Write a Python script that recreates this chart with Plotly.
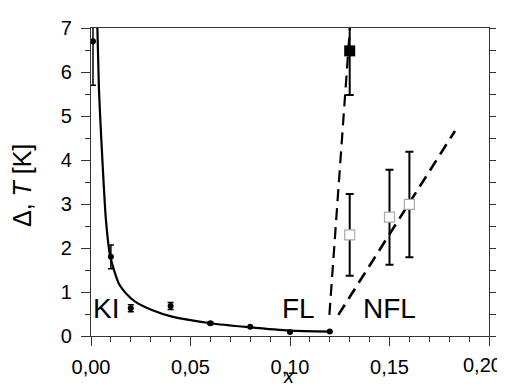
import plotly.graph_objects as go

# KI data (filled circles)
ki_x = [0.001, 0.01, 0.02, 0.04, 0.06, 0.08, 0.10, 0.12]
ki_y = [6.7, 1.8, 0.63, 0.68, 0.29, 0.21, 0.09, 0.10]
ki_err = [1.0, 0.27, 0.08, 0.08, 0.03, 0.0, 0.0, 0.0]

# fitted curve
fit_x = [0.0032, 0.0040, 0.0052, 0.0075, 0.0097, 0.0139, 0.0180, 0.0222, 0.0306, 0.0407, 0.060, 0.079, 0.100, 0.120]
fit_y = [7.0, 5.6, 4.45, 2.64, 1.80, 1.20, 0.95, 0.78, 0.59, 0.44, 0.29, 0.20, 0.12, 0.10]

# filled square
fs_x = [0.13]
fs_y = [6.48]
fs_err = [1.0]

# open squares
os_x = [0.13, 0.15, 0.16]
os_y = [2.30, 2.70, 2.99]
os_err = [0.93, 1.08, 1.20]

# dashed lines
d1_x = [0.1198, 0.1301]
d1_y = [0.48, 7.0]
d2_x = [0.1243, 0.1829]
d2_y = [0.48, 4.66]

labels = ["KI", "FL", "NFL"]
label_x = [0.0077, 0.1045, 0.150]
label_y = [0.62, 0.62, 0.62]

x_tickvals = [0, 0.05, 0.10, 0.15, 0.20]
x_ticktext = ["0,00", "0,05", "0,10", "0,15", ""]
last_tick_label = "0,20"

FONT = "Liberation Sans, Arial, sans-serif"
AX = "#333333"

fig = go.Figure()
fig.add_trace(go.Scatter(x=fit_x, y=fit_y, mode="lines", line=dict(color="black", width=2.2, shape="spline", smoothing=0.6)))
fig.add_trace(go.Scatter(x=d1_x, y=d1_y, mode="lines", line=dict(color="black", width=2.2, dash="12px,7px")))
fig.add_trace(go.Scatter(x=d2_x, y=d2_y, mode="lines", line=dict(color="black", width=2.6, dash="12px,7px")))
fig.add_trace(go.Scatter(x=ki_x, y=ki_y, mode="markers",
                         marker=dict(symbol="circle", size=6, color="black"),
                         error_y=dict(type="data", array=ki_err, color="black", thickness=1.5, width=3)))
fig.add_trace(go.Scatter(x=os_x, y=os_y, mode="markers",
                         marker=dict(symbol="square", size=10, color="white", line=dict(color="#aaaaaa", width=1.2)),
                         error_y=dict(type="data", array=os_err, color="black", thickness=2, width=4)))
fig.add_trace(go.Scatter(x=fs_x, y=fs_y, mode="markers",
                         marker=dict(symbol="square", size=11, color="black"),
                         error_y=dict(type="data", array=fs_err, color="black", thickness=2, width=4)))
# right axis helper
fig.add_trace(go.Scatter(x=[0.1], y=[3], mode="markers", marker=dict(opacity=0), yaxis="y2", hoverinfo="skip"))

for t, xx, yy in zip(labels, label_x, label_y):
    fig.add_annotation(x=xx, y=yy, text=t, showarrow=False, xanchor="center", yanchor="middle",
                       font=dict(family=FONT, size=28, color="black"))

# axis titles & last tick label as annotations
fig.add_annotation(xref="paper", yref="paper", x=-0.1734, y=0.49, text="Δ, <i>T</i> [K]", textangle=-90,
                   showarrow=False, xanchor="center", yanchor="middle", font=dict(family=FONT, size=25, color="black"))
fig.add_annotation(xref="paper", yref="paper", x=0.4975, y=-0.172, text="<i>x</i>",
                   showarrow=False, xanchor="center", yanchor="bottom", font=dict(family=FONT, size=20, color="black"))
fig.add_annotation(xref="paper", yref="paper", x=1, xshift=15, y=-0.0942, text=last_tick_label,
                   showarrow=False, xanchor="right", yanchor="middle", font=dict(family=FONT, size=20, color="black"))

fig.update_layout(
    width=497, height=382,
    margin=dict(l=83, r=16, t=20, b=54),
    paper_bgcolor="white", plot_bgcolor="white",
    showlegend=False,
    separators=",.",
    font=dict(family=FONT, color="black"),
    xaxis=dict(range=[0, 0.2], tickvals=x_tickvals, ticktext=x_ticktext,
               ticks="outside", ticklen=9, tickwidth=1.2, tickcolor=AX,
               minor=dict(dtick=0.01, ticks="outside", ticklen=5, tickwidth=1.2, tickcolor=AX),
               showline=True, linecolor=AX, linewidth=1.2, mirror=True,
               showgrid=False, zeroline=False, automargin=False,
               tickfont=dict(size=20), ticklabelstandoff=4),
    yaxis=dict(range=[0, 7], dtick=1, ticks="outside", ticklen=9, tickwidth=1.2, tickcolor=AX,
               minor=dict(dtick=0.5, ticks="outside", ticklen=5, tickwidth=1.2, tickcolor=AX),
               showline=True, linecolor=AX, linewidth=1.2,
               showgrid=False, zeroline=False, automargin=False,
               tickfont=dict(size=20), ticklabelstandoff=5),
    yaxis2=dict(range=[0, 7], overlaying="y", side="right", dtick=0.5, ticks="outside", ticklen=6,
                tickwidth=1.2, tickcolor=AX, showticklabels=False, showline=True, linecolor=AX,
                linewidth=1.2, showgrid=False, zeroline=False, automargin=False),
)

fig.write_html("out.html")
